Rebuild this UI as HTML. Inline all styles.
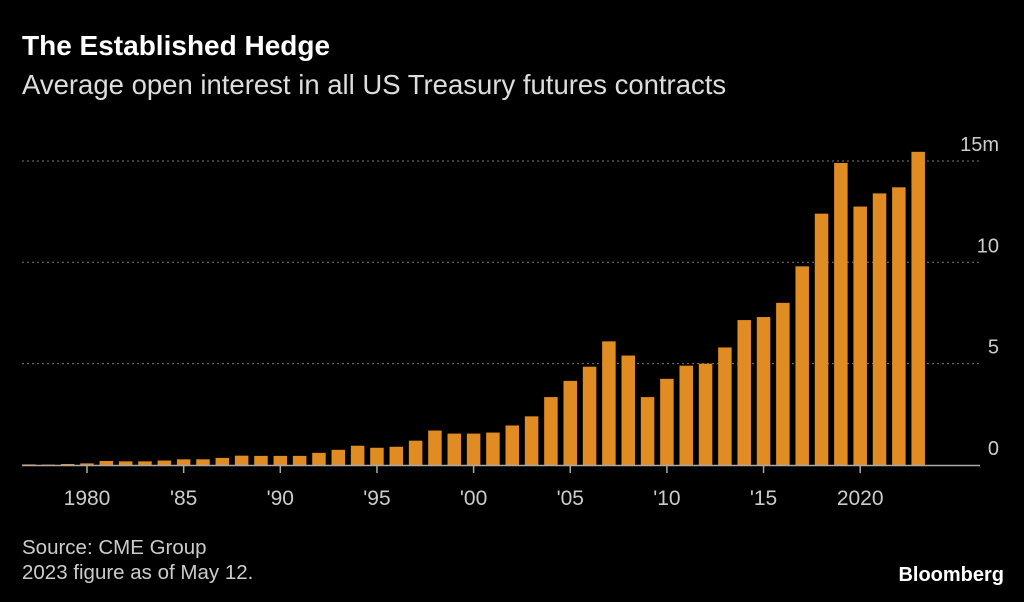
<!DOCTYPE html>
<html><head><meta charset="utf-8"><style>
body{margin:0;background:#000;width:1024px;height:602px;overflow:hidden;font-family:"Liberation Sans",sans-serif;color:#fff}
.t{position:absolute;left:22px;top:30px;font-size:28px;font-weight:bold}
.s{position:absolute;left:22px;top:69px;font-size:27.5px;color:#ddd}
.f{position:absolute;left:22px;font-size:20.5px;color:#ccc}
.b{position:absolute;right:20px;top:564px;font-size:20px;font-weight:bold}
</style></head><body>
<div class="t">The Established Hedge</div>
<div class="s">Average open interest in all US Treasury futures contracts</div>
<svg id="c" width="1024" height="602" style="position:absolute;left:0;top:0"></svg>
<div class="f" style="top:536px">Source: CME Group</div>
<div class="f" style="top:561px">2023 figure as of May 12.</div>
<div class="b">Bloomberg</div>
<script>
const years=[1977,1978,1979,1980,1981,1982,1983,1984,1985,1986,1987,1988,1989,1990,1991,1992,1993,1994,1995,1996,1997,1998,1999,2000,2001,2002,2003,2004,2005,2006,2007,2008,2009,2010,2011,2012,2013,2014,2015,2016,2017,2018,2019,2020,2021,2022,2023];
const values=[0.03,0.02,0.05,0.08,0.2,0.18,0.18,0.22,0.28,0.28,0.35,0.46,0.45,0.45,0.45,0.6,0.75,0.95,0.85,0.9,1.2,1.7,1.55,1.55,1.6,1.95,2.4,3.35,4.15,4.85,6.1,5.4,3.35,4.25,4.9,5.0,5.8,7.15,7.3,8.0,9.8,12.4,14.9,12.75,13.4,13.7,15.45];
const yTicks=[0,5,10,15];
const yTickLabels=["0","5","10","15m"];
const xTicks=[1980,1985,1990,1995,2000,2005,2010,2015,2020];
const xTickLabels=["1980","'85","'90","'95","'00","'05","'10","'15","2020"];
const svg=document.getElementById('c');const NS='http://www.w3.org/2000/svg';
const x=yr=>87+(yr-1980)*19.33;
const y=v=>465-v*20.27;
function mk(t,a){const e=document.createElementNS(NS,t);for(const k in a)e.setAttribute(k,a[k]);svg.appendChild(e);return e;}
yTicks.forEach((v,i)=>{
 if(v>0){const g=mk('line',{x1:22,x2:980,y1:y(v),y2:y(v),stroke:'#777','stroke-dasharray':'2,3','stroke-width':1});
 
 }
 const t=mk('text',{x:999,y:y(v)-10,'text-anchor':'end',fill:'#ccc','font-size':20,'font-family':'Liberation Sans'});
 t.textContent=yTickLabels[i];
 
 
});
years.forEach((yr,i)=>{
 const r=mk('rect',{x:x(yr)-6.75,y:y(values[i]),width:13.5,height:Math.max(values[i]*20.27,0.5),fill:'#e08c22'});
 
 
});
const ax=mk('line',{x1:22,x2:980,y1:465.5,y2:465.5,stroke:'#aaa','stroke-width':1.5});


xTicks.forEach((yr,i)=>{
 const l=mk('line',{x1:x(yr),x2:x(yr),y1:466,y2:473,stroke:'#aaa','stroke-width':1.5});
 
 
 const t=mk('text',{x:x(yr),y:505,'text-anchor':'middle',fill:'#ccc','font-size':21,'font-family':'Liberation Sans'});
 t.textContent=xTickLabels[i];
 
 
});
</script>
</body></html>
